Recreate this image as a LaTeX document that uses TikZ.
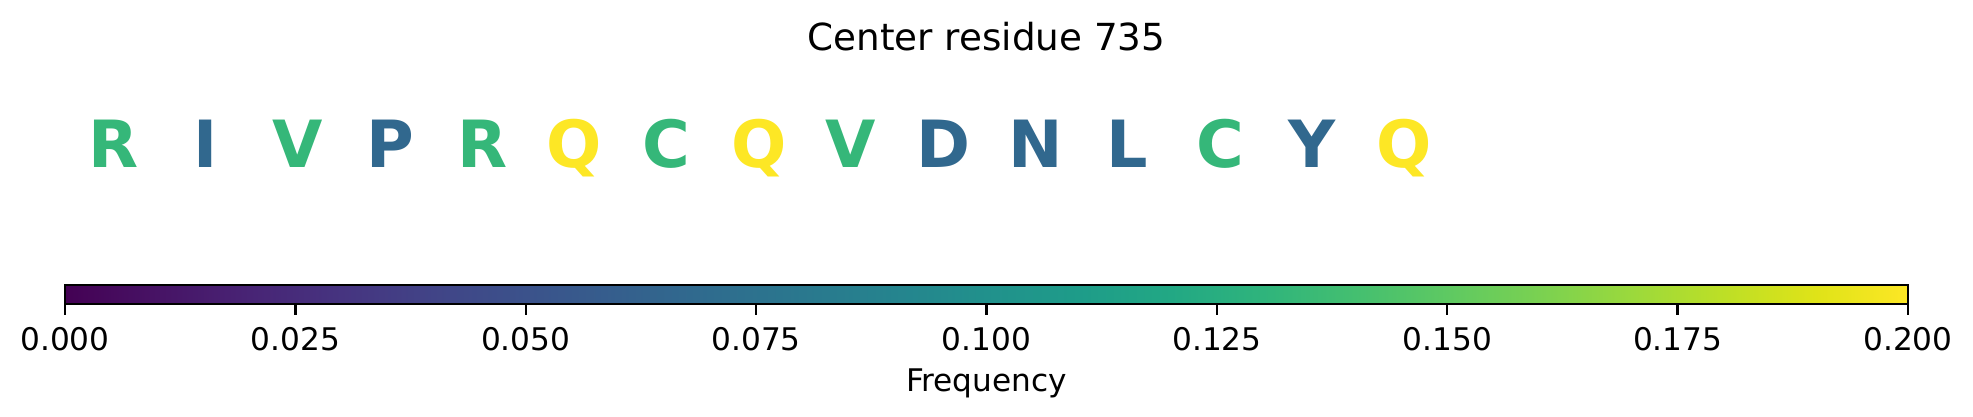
\documentclass[tikz,border=0pt]{standalone}
\usepackage{fontspec}
\setmainfont{DejaVu Sans}
\usepackage{xcolor}
\usepackage{tikz}

\definecolor{resblue}{HTML}{31688E}
\definecolor{resgreen}{HTML}{35B779}
\definecolor{resyellow}{HTML}{FDE725}

% viridis stops
\definecolor{vA}{HTML}{440154}
\definecolor{vB}{HTML}{471365}
\definecolor{vC}{HTML}{482475}
\definecolor{vD}{HTML}{463480}
\definecolor{vE}{HTML}{414487}
\definecolor{vF}{HTML}{3B528B}
\definecolor{vG}{HTML}{355F8D}
\definecolor{vH}{HTML}{2F6C8E}
\definecolor{vI}{HTML}{2A788E}
\definecolor{vJ}{HTML}{25848E}
\definecolor{vK}{HTML}{21918C}
\definecolor{vL}{HTML}{1E9C89}
\definecolor{vM}{HTML}{22A884}
\definecolor{vN}{HTML}{2FB47C}
\definecolor{vO}{HTML}{44BF70}
\definecolor{vP}{HTML}{5EC962}
\definecolor{vQ}{HTML}{7AD151}
\definecolor{vR}{HTML}{9BD93C}
\definecolor{vS}{HTML}{BDDF26}
\definecolor{vT}{HTML}{DFE318}
\definecolor{vU}{HTML}{FDE725}

\pgfdeclarehorizontalshading{viridis}{100bp}{color(0bp)=(vA); color(25bp)=(vA);
  color(27.5bp)=(vB); color(30bp)=(vC); color(32.5bp)=(vD); color(35bp)=(vE);
  color(37.5bp)=(vF); color(40bp)=(vG); color(42.5bp)=(vH); color(45bp)=(vI);
  color(47.5bp)=(vJ); color(50bp)=(vK); color(52.5bp)=(vL); color(55bp)=(vM);
  color(57.5bp)=(vN); color(60bp)=(vO); color(62.5bp)=(vP); color(65bp)=(vQ);
  color(67.5bp)=(vR); color(70bp)=(vS); color(72.5bp)=(vT); color(75bp)=(vU);
  color(100bp)=(vU)}

\tikzset{
  residue/.style={font=\bfseries\fontsize{21.3}{21.3}\selectfont, anchor=base, inner sep=0pt},
  ticklabel/.style={font=\fontsize{10.2}{10.2}\selectfont, anchor=base, inner sep=0pt},
  cbtick/.style={line width=0.8pt}
}

\begin{document}
\begin{tikzpicture}[x=0.3273pt, y=0.3273pt]
        \useasboundingbox (0,0) rectangle (1973,416);

        \node[font=\fontsize{12.2}{12.2}\selectfont, anchor=base, inner sep=0pt] (title) at (986.5, 366) {Center residue 735};

        \foreach \aa/\col [count=\i from 0] in {R/resgreen, I/resblue, V/resgreen, P/resblue, R/resgreen, Q/resyellow, C/resgreen, Q/resyellow, V/resgreen, D/resblue, N/resblue, L/resblue, C/resgreen, Y/resblue, Q/resyellow}
            \node[residue, text=\col] (res\i) at ({113.5+92.2*\i}, 249) {\aa};

        \coordinate (CbL) at (65, 112);
        \coordinate (CbR) at (1908, 131);
        \shade[shading=viridis] (CbL) rectangle (CbR);
        \draw[line width=0.8pt] (CbL) rectangle (CbR);

        \foreach \val [count=\k from 0] in {0.000, 0.025, 0.050, 0.075, 0.100, 0.125, 0.150, 0.175, 0.200} {
            \coordinate (tick\k) at ({65+230.375*\k}, 112);
            \draw[cbtick] (tick\k) -- ++(0, -10.7);
            \node[ticklabel] (lab\k) at ({65+230.375*\k}, 66) {\val};
        }

        \node[ticklabel] (cblabel) at (986.5, 24.5) {Frequency};
\end{tikzpicture}
\end{document}
